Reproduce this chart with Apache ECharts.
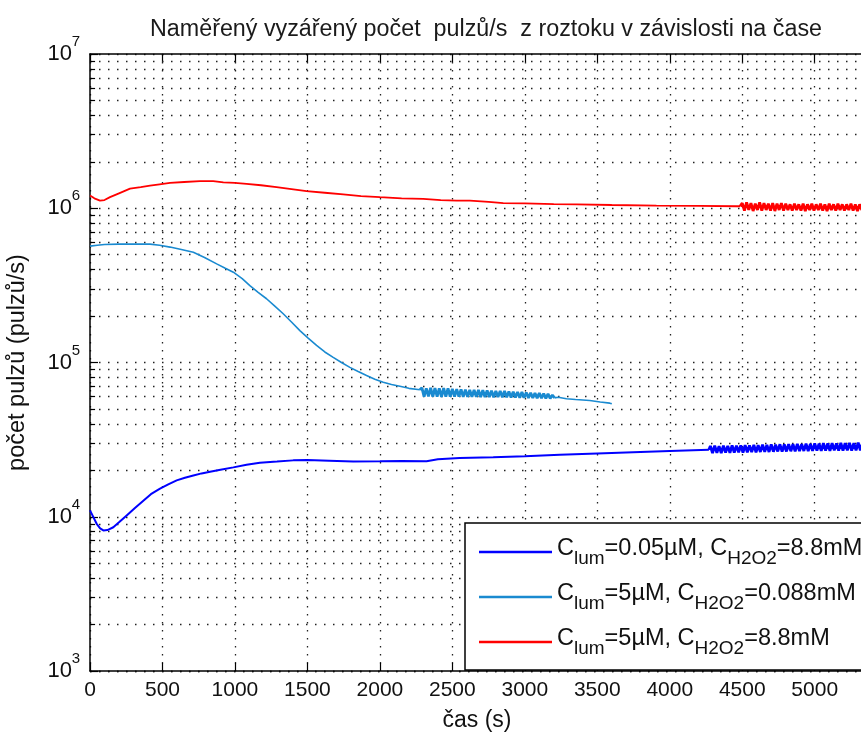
<!DOCTYPE html>
<html><head><meta charset="utf-8">
<script src="https://cdn.jsdelivr.net/npm/echarts@6/dist/echarts.min.js"></script>
<style>html,body{margin:0;padding:0;background:#fff}#c{width:861px;height:734px}</style>
</head><body><div id="c"></div>
<script>
// ---------- text ----------
const titleText = 'Naměřený vyzářený počet  pulzů/s  z roztoku v závislosti na čase';
const xName = 'čas (s)';
const yName = 'počet pulzů (pulzů/s)';
// legend parts: normal, subscript, normal, subscript, normal
const legendA = ['C', 'lum', '=0.05µM, C', 'H2O2', '=8.8mM'];
const legendB = ['C', 'lum', '=5µM, C', 'H2O2', '=0.088mM'];
const legendC = ['C', 'lum', '=5µM, C', 'H2O2', '=8.8mM'];
const seriesNames = [legendA.join(''), legendB.join(''), legendC.join('')];

// ---------- axes ----------
const xMin = 0, xMax = 5340, xStep = 500;
const yMin = 1e3, yMax = 1e7;
const yMinorTicks = [2e3,3e3,4e3,5e3,6e3,7e3,8e3,9e3,
                     2e4,3e4,4e4,5e4,6e4,7e4,8e4,9e4,
                     2e5,3e5,4e5,5e5,6e5,7e5,8e5,9e5,
                     2e6,3e6,4e6,5e6,6e6,7e6,8e6,9e6];

// ---------- data: C_lum=0.05µM, C_H2O2=8.8mM (dark blue) ----------
const tDark = [0,12,46,70,92,120,161,200,253,310,368,420,483,540,598,655,713,770,828,900,989,1080,1172,1290,1402,1500,1650,1816,2000,2150,2322,2400,2550,2782,3000,3241,3500,3747,4000,4270];
const vDark = [1.1e4,1.07e4,9.0e3,8.4e3,8.15e3,8.2e3,8.55e3,9.2e3,1.02e4,1.14e4,1.27e4,1.4e4,1.52e4,1.62e4,1.72e4,1.79e4,1.85e4,1.91e4,1.96e4,2.02e4,2.09e4,2.17e4,2.24e4,2.28e4,2.32e4,2.33e4,2.31e4,2.28e4,2.29e4,2.30e4,2.29e4,2.36e4,2.40e4,2.43e4,2.47e4,2.52e4,2.57e4,2.62e4,2.67e4,2.72e4];
const tDarkNoisy = [4280,4295,4310,4325,4340,4355,4370,4385,4400,4415,4430,4445,4460,4475,4490,4505,4520,4535,4550,4565,4580,4595,4610,4625,4640,4655,4670,4685,4700,4715,4730,4745,4760,4775,4790,4805,4820,4835,4850,4865,4880,4895,4910,4925,4940,4955,4970,4985,5000,5015,5030,5045,5060,5075,5090,5105,5120,5135,5150,5165,5180,5195,5210,5225,5240,5255,5270,5285,5300,5315,5330];
const vDarkNoisy = [2.88e4,2.59e4,2.89e4,2.60e4,2.87e4,2.59e4,2.89e4,2.61e4,2.88e4,2.60e4,
  2.90e4,2.61e4,2.89e4,2.62e4,2.90e4,2.61e4,2.91e4,2.62e4,2.90e4,2.63e4,
  2.92e4,2.62e4,2.91e4,2.63e4,2.93e4,2.64e4,2.92e4,2.63e4,2.94e4,2.64e4,
  2.93e4,2.65e4,2.95e4,2.64e4,2.94e4,2.65e4,2.96e4,2.66e4,2.95e4,2.65e4,
  2.97e4,2.66e4,2.96e4,2.67e4,2.98e4,2.66e4,2.97e4,2.67e4,2.99e4,2.68e4,
  2.98e4,2.67e4,3.00e4,2.68e4,2.99e4,2.67e4,3.00e4,2.69e4,2.99e4,2.68e4,
  3.01e4,2.68e4,3.00e4,2.69e4,3.01e4,2.68e4,3.00e4,2.69e4,3.02e4,2.69e4,
  3.01e4];

// ---------- data: C_lum=5µM, C_H2O2=0.088mM (light blue) ----------
const tLight = [0,50,100,200,300,414,480,552,630,713,790,874,930,989,1050,1103,1160,1218,1275,1333,1390,1448,1505,1563,1620,1678,1735,1793,1850,1908,1965,2023,2080,2138,2200,2276];
const vLight = [5.68e5,5.75e5,5.82e5,5.85e5,5.85e5,5.85e5,5.75e5,5.6e5,5.4e5,5.19e5,4.8e5,4.36e5,4.1e5,3.85e5,3.5e5,3.15e5,2.85e5,2.59e5,2.32e5,2.07e5,1.83e5,1.61e5,1.44e5,1.29e5,1.17e5,1.08e5,1.0e5,9.3e4,8.75e4,8.24e4,7.8e4,7.45e4,7.2e4,7.02e4,6.8e4,6.65e4];
const tLightNoisy = [2290,2305,2320,2335,2350,2365,2380,2395,2410,2425,2440,2455,2470,2485,2500,2515,2530,2545,2560,2575,2590,2605,2620,2635,2650,2665,2680,2695,2710,2725,2740,2755,2770,2785,2800,2815,2830,2845,2860,2875,2890,2905,2920,2935,2950,2965,2980,2995,3010,3025,3040,3055,3070,3085,3100,3115,3130,3145,3160,3175,3190,3205];
const vLightNoisy = [6.85e4,6.00e4,6.80e4,6.02e4,6.85e4,6.00e4,6.83e4,6.01e4,6.80e4,5.99e4,
  6.82e4,6.00e4,6.79e4,6.01e4,6.75e4,6.00e4,6.73e4,6.01e4,6.70e4,5.99e4,
  6.67e4,6.00e4,6.65e4,5.98e4,6.65e4,5.99e4,6.63e4,5.97e4,6.61e4,5.98e4,
  6.60e4,5.97e4,6.57e4,5.95e4,6.55e4,5.96e4,6.55e4,5.95e4,6.53e4,5.94e4,
  6.50e4,5.93e4,6.47e4,5.92e4,6.45e4,5.91e4,6.43e4,5.90e4,6.40e4,5.89e4,
  6.37e4,5.88e4,6.35e4,5.87e4,6.33e4,5.86e4,6.30e4,5.85e4,6.25e4,5.85e4,
  6.15e4,5.90e4];
const tLightTail = [3230,3287,3350,3448,3520,3586,3600];
const vLightTail = [5.95e4,5.82e4,5.75e4,5.67e4,5.55e4,5.45e4,5.4e4];

// ---------- data: C_lum=5µM, C_H2O2=8.8mM (red) ----------
const tRed = [0,30,69,100,138,200,276,350,414,480,552,650,759,850,920,1000,1080,1180,1287,1390,1494,1620,1747,1870,2000,2150,2299,2420,2529,2621,2750,2851,3000,3200,3356,3600,3908,4200,4460,4485];
const vRed = [1.21e6,1.16e6,1.12e6,1.13e6,1.18e6,1.25e6,1.34e6,1.37e6,1.40e6,1.43e6,1.46e6,1.48e6,1.50e6,1.50e6,1.47e6,1.46e6,1.44e6,1.41e6,1.37e6,1.33e6,1.29e6,1.26e6,1.23e6,1.20e6,1.18e6,1.16e6,1.15e6,1.13e6,1.12e6,1.12e6,1.10e6,1.08e6,1.075e6,1.065e6,1.06e6,1.05e6,1.04e6,1.035e6,1.03e6,1.03e6];
const tRedNoisy = [4500,4515,4530,4545,4560,4575,4590,4605,4620,4635,4650,4665,4680,4695,4710,4725,4740,4755,4770,4785,4800,4815,4830,4845,4860,4875,4890,4905,4920,4935,4950,4965,4980,4995,5010,5025,5040,5055,5070,5085,5100,5115,5130,5145,5160,5175,5190,5205,5220,5235,5250,5265,5280,5295,5310,5325,5340];
const vRedNoisy = [1.08e6,0.965e6,1.09e6,0.975e6,1.08e6,0.96e6,1.07e6,0.975e6,1.09e6,0.965e6,
  1.08e6,0.975e6,1.07e6,0.965e6,1.08e6,0.96e6,1.07e6,0.975e6,1.08e6,0.965e6,
  1.07e6,0.975e6,1.06e6,0.965e6,1.07e6,0.975e6,1.06e6,0.965e6,1.07e6,0.96e6,
  1.06e6,0.975e6,1.07e6,0.965e6,1.06e6,0.975e6,1.07e6,0.965e6,1.06e6,0.96e6,
  1.07e6,0.975e6,1.06e6,0.965e6,1.07e6,0.975e6,1.06e6,0.965e6,1.06e6,0.975e6,
  1.07e6,0.965e6,1.06e6,0.96e6,1.06e6,0.975e6,1.06e6];

// ---------- style ----------
const FONT = 'Liberation Sans, Arial, Helvetica, sans-serif';
const TXT = '#111';
const colDark = '#0000ff', colLight = '#1a8ad0', colRed = '#ff0000';
const dotX = [1.5, 6.5], dotY = [1.5, 7.5];

function pairs(t, v) { return t.map((x, i) => [x, v[i]]); }
function lastPair(t, v) { return [[t[t.length - 1], v[v.length - 1]]]; }

const chart = echarts.init(document.getElementById('c'), null, {renderer: 'canvas'});

const legendRich = {
  n: {fontSize: 23.5, fontFamily: FONT, color: TXT, lineHeight: 24, verticalAlign: 'top'},
  s: {fontSize: 19, fontFamily: FONT, color: TXT, lineHeight: 19, verticalAlign: 'top', padding: [12, 0, 0, 0]}
};
function legendFmt(parts) {
  return parts.map((p, i) => '{' + (i % 2 ? 's' : 'n') + '|' + p + '}').join('');
}
const legendMap = {};
legendMap[seriesNames[0]] = legendFmt(legendA);
legendMap[seriesNames[1]] = legendFmt(legendB);
legendMap[seriesNames[2]] = legendFmt(legendC);

const baseX = {
  type: 'value', min: xMin, max: xMax, interval: xStep,
  axisLine: {show: true, onZero: false, lineStyle: {color: '#000', width: 1.5}},
  axisTick: {show: true, inside: true, length: 8, lineStyle: {color: '#000', width: 1.2}},
};

function lineSeries(name, data, color, width) {
  return {name: name, type: 'line', z: 3, showSymbol: false, symbol: 'none',
          data: data, color: color, lineStyle: {color: color, width: width}};
}

const option = {
  animation: false,
  backgroundColor: '#fff',
  title: {
    text: titleText, left: 481, top: 13, textAlign: 'center',
    textStyle: {fontFamily: FONT, fontSize: 23.3, fontWeight: 'normal', color: '#1a1a1a'}
  },
  grid: {left: 90, top: 54, right: -3, bottom: 63, containLabel: false, outerBoundsMode: 'none'},
  xAxis: [
    Object.assign({}, baseX, {
      position: 'bottom',
      name: xName, nameLocation: 'middle', nameGap: 38,
      nameTextStyle: {fontFamily: FONT, fontSize: 23, color: TXT},
      axisLabel: {fontFamily: FONT, fontSize: 21, color: TXT, margin: 9, showMaxLabel: false,
                  formatter: function (v) { return String(v); }},
      splitLine: {show: true, lineStyle: {color: '#222', width: 1.3, type: dotX}}
    }),
    Object.assign({}, baseX, {
      position: 'top',
      axisLabel: {show: false}, splitLine: {show: false}
    })
  ],
  yAxis: [
    {
      type: 'log', logBase: 10, min: yMin, max: yMax, position: 'left',
      name: yName, nameLocation: 'middle', nameGap: 60, nameRotate: 90,
      nameTextStyle: {fontFamily: FONT, fontSize: 23.5, color: TXT},
      axisLine: {show: true, lineStyle: {color: '#000', width: 1.5}},
      axisTick: {show: true, inside: true, length: 8, lineStyle: {color: '#000', width: 1.2}},
      axisLabel: {
        margin: 18, align: 'right', fontFamily: FONT, fontSize: 22, color: TXT,
        formatter: function (v) { return '10'; }
      },
      splitLine: {show: true, lineStyle: {color: '#222', width: 1.3, type: dotY}}
    },
    {
      // exponents of the tick labels (superscripts)
      type: 'log', logBase: 10, min: yMin, max: yMax, position: 'left', offset: 0,
      axisLine: {show: false}, axisTick: {show: false}, splitLine: {show: false},
      axisLabel: {
        margin: 10, align: 'right', verticalAlign: 'bottom', fontFamily: FONT, fontSize: 15, color: TXT,
        lineHeight: 24,
        formatter: function (v) { return String(Math.round(Math.log10(v))); }
      }
    }
  ],
  legend: {
    data: seriesNames,
    orient: 'vertical', left: 479, top: 537, padding: 0,
    itemGap: 14, itemWidth: 73, itemHeight: 2.5, icon: 'rect',
    z: 60, selectedMode: false,
    formatter: function (name) { return legendMap[name]; },
    textStyle: {rich: legendRich, fontFamily: FONT, fontSize: 23.5, color: TXT, padding: [0, 0, 6, 0]}
  },
  graphic: [{
    type: 'rect', z: 50, silent: true,
    shape: {x: 465, y: 523, width: 420, height: 147},
    style: {fill: '#fff', stroke: '#000', lineWidth: 1.5}
  }],
  series: [
    {
      name: '_grid', type: 'line', data: [], silent: true,
      markLine: {
        z: 1, silent: true, symbol: 'none', animation: false,
        label: {show: false},
        lineStyle: {color: '#222', width: 1.3, type: dotY},
        data: yMinorTicks.map(v => ({yAxis: v}))
      }
    },
    {
      name: '_ticks', type: 'line', data: [], silent: true,
      markLine: {
        z: 1, silent: true, symbol: 'none', animation: false,
        label: {show: false},
        lineStyle: {color: '#000', width: 1.2, type: 'solid'},
        data: yMinorTicks.map(v => [{coord: [0, v]}, {coord: [35, v]}])
      }
    },
    lineSeries(seriesNames[0], pairs(tDark, vDark), colDark, 2),
    lineSeries(seriesNames[0], lastPair(tDark, vDark).concat(pairs(tDarkNoisy, vDarkNoisy)), colDark, 2.8),
    lineSeries(seriesNames[1], pairs(tLight, vLight), colLight, 1.6),
    lineSeries(seriesNames[1], lastPair(tLight, vLight).concat(pairs(tLightNoisy, vLightNoisy)), colLight, 2.8),
    lineSeries(seriesNames[1], lastPair(tLightNoisy, vLightNoisy).concat(pairs(tLightTail, vLightTail)), colLight, 1.6),
    lineSeries(seriesNames[2], pairs(tRed, vRed), colRed, 1.8),
    lineSeries(seriesNames[2], lastPair(tRed, vRed).concat(pairs(tRedNoisy, vRedNoisy)), colRed, 2.8)
  ]
};
chart.setOption(option);
</script>
</body></html>
